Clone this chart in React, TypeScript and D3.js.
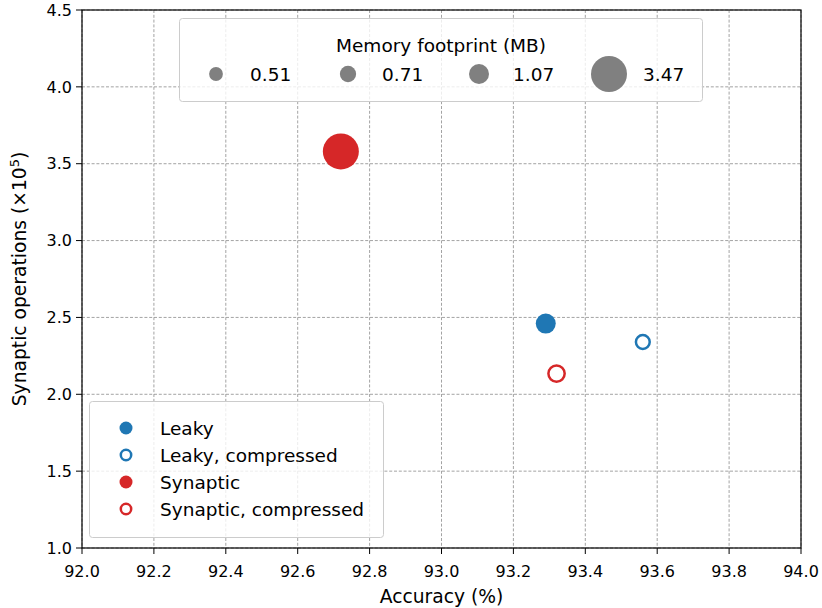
import * as d3 from "d3";

// accuracy (%), synaptic ops (x10^5), memory (MB)
const seriesNames = ["Leaky", "Leaky, compressed", "Synaptic", "Synaptic, compressed"];
const seriesColors = ["#1f77b4", "#1f77b4", "#d62728", "#d62728"];
const seriesFilled = [true, false, true, false];
const accuracy = [93.29, 93.56, 92.72, 93.32];
const synOps = [2.46, 2.34, 3.58, 2.135];
const memory = [1.07, 0.51, 3.47, 0.71];

const memoryLegend = [0.51, 0.71, 1.07, 3.47];
const xTicks = [92.0, 92.2, 92.4, 92.6, 92.8, 93.0, 93.2, 93.4, 93.6, 93.8, 94.0];
const yTicks = [1.0, 1.5, 2.0, 2.5, 3.0, 3.5, 4.0, 4.5];

const W = 822;
const H = 608;
const left = 82;
const right = 801;
const top = 10;
const bottom = 548;
const font = "DejaVu Sans, sans-serif";

const App = () => {
  const x = d3.scaleLinear().domain([92, 94]).range([left, right]);
  const y = d3.scaleLinear().domain([1, 4.5]).range([bottom, top]);
  const r = d3.scaleSqrt().domain([0, 3.47]).range([0, 18]);

  const sizeX = [216, 348, 479, 609];

  return (
    <svg
      width={W}
      height={H}
      style={{ position: "absolute", left: 0, top: 0, fontFamily: font }}
    >
      <rect width={W} height={H} fill="white" />
      {/* grid */}
      <g stroke="#8c8c8c" strokeWidth={0.8} strokeDasharray="3,1.8">
        {xTicks.map((t) => (
          <line key={"gx" + t} x1={x(t)} x2={x(t)} y1={top} y2={bottom} />
        ))}
        {yTicks.map((t) => (
          <line key={"gy" + t} x1={left} x2={right} y1={y(t)} y2={y(t)} />
        ))}
      </g>
      {/* points */}
      {accuracy.map((a, i) => (
        <circle
          key={"p" + i}
          cx={x(a)}
          cy={y(synOps[i])}
          r={r(memory[i])}
          fill={seriesFilled[i] ? seriesColors[i] : "white"}
          stroke={seriesFilled[i] ? "none" : seriesColors[i]}
          strokeWidth={2.5}
        />
      ))}
      {/* spines */}
      <rect
        x={left}
        y={top}
        width={right - left}
        height={bottom - top}
        fill="none"
        stroke="black"
        strokeWidth={1.2}
      />
      {/* axes */}
      <g fontSize={16} fill="black">
        {xTicks.map((t) => (
          <g key={"xt" + t}>
            <line x1={x(t)} x2={x(t)} y1={bottom} y2={bottom + 6} stroke="black" strokeWidth={1} />
            <text x={x(t)} y={577} textAnchor="middle">
              {d3.format(".1f")(t)}
            </text>
          </g>
        ))}
        {yTicks.map((t) => (
          <g key={"yt" + t}>
            <line x1={left - 6} x2={left} y1={y(t)} y2={y(t)} stroke="black" strokeWidth={1} />
            <text x={left - 10} y={y(t)} dy="0.36em" textAnchor="end">
              {d3.format(".1f")(t)}
            </text>
          </g>
        ))}
      </g>
      <text x={(left + right) / 2} y={603} textAnchor="middle" fontSize={18.7}>
        Accuracy (%)
      </text>
      <text
        transform={`translate(26,${(top + bottom) / 2}) rotate(-90)`}
        textAnchor="middle"
        fontSize={18.7}
      >
        Synaptic operations (×10<tspan dy={-7} fontSize={13}>5</tspan>
        <tspan dy={7}>)</tspan>
      </text>
      {/* size legend */}
      <rect
        x={179.5}
        y={18.5}
        width={523}
        height={83}
        rx={3}
        fill="white"
        fillOpacity={0.8}
        stroke="#cccccc"
        strokeWidth={1}
      />
      <text x={441} y={52} textAnchor="middle" fontSize={18.5}>
        Memory footprint (MB)
      </text>
      {memoryLegend.map((m, i) => (
        <g key={"ml" + i}>
          <circle cx={sizeX[i]} cy={74} r={r(m)} fill="#808080" />
          <text x={sizeX[i] + 34} y={74} dy="0.36em" fontSize={18.5}>
            {m.toFixed(2)}
          </text>
        </g>
      ))}
      {/* series legend */}
      <rect
        x={89.5}
        y={401.5}
        width={294}
        height={136}
        rx={3}
        fill="white"
        fillOpacity={0.8}
        stroke="#cccccc"
        strokeWidth={1}
      />
      {seriesNames.map((n, i) => (
        <g key={"sl" + i}>
          <circle
            cx={126}
            cy={428 + i * 27}
            r={seriesFilled[i] ? 6.5 : 5.2}
            fill={seriesFilled[i] ? seriesColors[i] : "white"}
            stroke={seriesFilled[i] ? "none" : seriesColors[i]}
            strokeWidth={2.5}
          />
          <text x={160} y={428 + i * 27} dy="0.36em" fontSize={18.5}>
            {n}
          </text>
        </g>
      ))}
    </svg>
  );
};

export default App;
